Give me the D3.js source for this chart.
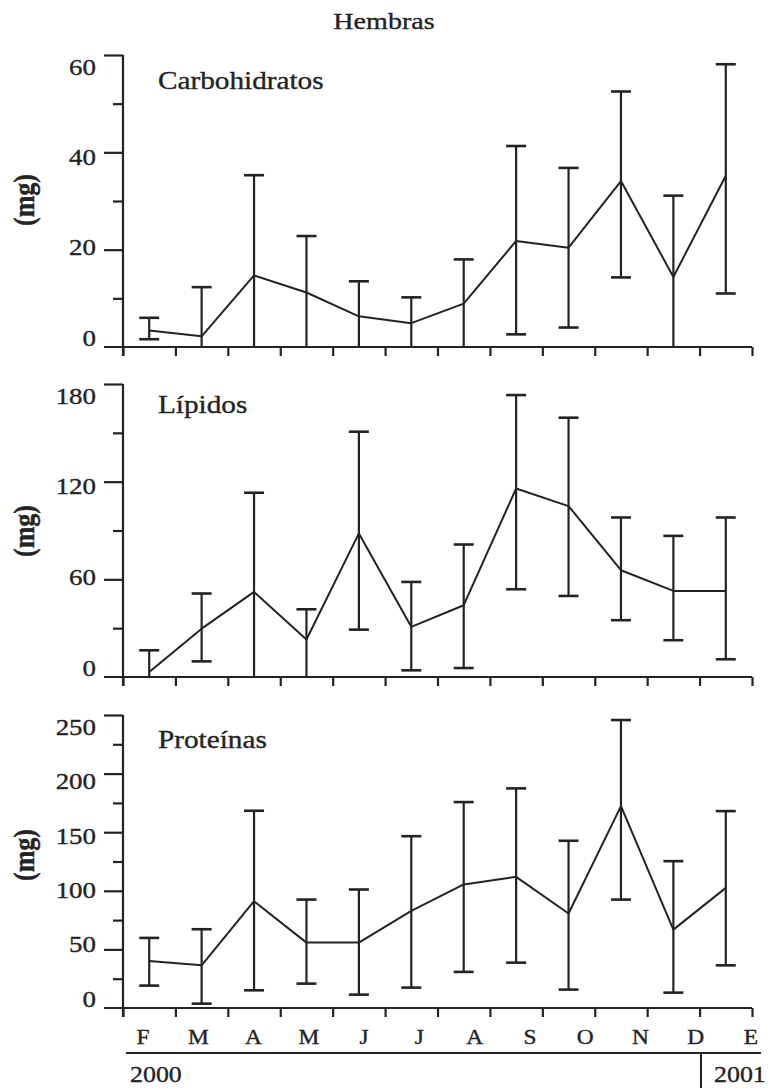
<!DOCTYPE html>
<html>
<head>
<meta charset="utf-8">
<script src="https://cdn.jsdelivr.net/npm/d3@7"></script>
<style>
  html, body { margin: 0; padding: 0; background: #fff; }
  svg { display: block; }
</style>
</head>
<body>
<svg id="chart" width="771" height="1088"></svg>
<script>
// Month labels (Feb 2000 – Jan 2001)
const months = ["F", "M", "A", "M", "J", "J", "A", "S", "O", "N", "D", "E"];
const years = ["2000", "2001"];

// Carbohidratos (mg): mean, upper and lower error limits (null = bar runs to the axis)
const carboMean  = [3.4, 2.2, 14.7, 11.2, 6.3, 4.9, 8.9, 21.8, 20.4, 34.1, 14.4, 35.2];
const carboUpper = [6.0, 12.3, 35.3, 22.8, 13.5, 10.2, 18.0, 41.3, 36.8, 52.5, 31.1, 58.1];
const carboLower = [1.6, null, null, null, null, null, null, 2.6, 4.0, 14.3, null, 11.0];
const carboTicks = [0, 20, 40, 60];
const carboMinor = [10, 30, 50];

// Lípidos (mg)
const lipMean  = [3.1, 29.7, 52.3, 23.0, 88.2, 30.8, 44.1, 115.8, 105.0, 65.6, 52.9, 52.9];
const lipUpper = [16.4, 51.3, 113.2, 41.6, 150.7, 58.4, 81.4, 173.2, 159.3, 98.0, 86.7, 98.0];
const lipLower = [null, 9.6, null, null, 29.1, 4.1, 5.5, 53.9, 49.8, 34.9, 22.6, 10.9];
const lipTicks = [0, 60, 120, 180];
const lipMinor = [30, 90, 150];

// Proteínas (mg)
const protMean  = [40.1, 36.4, 91.1, 55.8, 55.8, 82.9, 105.4, 111.9, 80.6, 172.3, 66.9, 102.5];
const protUpper = [59.8, 67.2, 168.3, 92.5, 101.1, 146.6, 175.7, 187.4, 142.7, 245.7, 125.3, 168.0];
const protLower = [19.1, 3.7, 15.1, 20.8, 11.4, 17.4, 30.8, 38.7, 15.7, 92.5, 13.1, 36.4];
const protTicks = [0, 50, 100, 150, 200, 250];
const protMinor = [25, 75, 125, 175, 225];

const INK = "#232323";
const FONT = "'Liberation Serif', 'Times New Roman', serif";
const SX = 1.17; // horizontal stretch of the lettering

const svg = d3.select("#chart");

// Stretched text helper
function label(g, x, y, str, size, anchor, opts = {}) {
  const t = g.append("text")
    .attr("transform", `translate(${x},${y}) scale(${opts.sx || SX},1)` + (opts.rotate ? ` rotate(${opts.rotate})` : ""))
    .attr("text-anchor", anchor)
    .attr("font-family", FONT)
    .attr("font-size", size)
    .attr("fill", INK)
    .attr("stroke", INK)
    .attr("stroke-width", 0.35)
    .text(str);
  if (opts.bold) t.attr("font-weight", "bold");
  return t;
}

// Shared month axis: ticks at month boundaries, data at month centres
const x = d3.scaleLinear().domain([0, 12]).range([123, 752]);
const xLabel = d3.scalePoint().domain(d3.range(12)).range([143, 751]);

const panels = [
  { name: "Carbohidratos", mean: carboMean, hi: carboUpper, lo: carboLower,
    max: 60, ticks: carboTicks, minor: carboMinor,
    top: 55, bottom: 347, titleY: 89, unitY: 200 },
  { name: "Lípidos", mean: lipMean, hi: lipUpper, lo: lipLower,
    max: 180, ticks: lipTicks, minor: lipMinor,
    top: 384, bottom: 677, titleY: 413, unitY: 531 },
  { name: "Proteínas", mean: protMean, hi: protUpper, lo: protLower,
    max: 250, ticks: protTicks, minor: protMinor,
    top: 715, bottom: 1008, titleY: 748, unitY: 855 }
];

panels.forEach(p => {
  const g = svg.append("g");
  const y = d3.scaleLinear().domain([0, p.max]).range([p.bottom, p.top]);
  // tick numbers sit on a slightly compressed copy of the value scale
  const yLab = y.copy().range([p.bottom - 9, p.top + 12]);

  // y axis: major and minor tick marks
  const majorAx = g.append("g").attr("transform", `translate(${x(0)},0)`)
    .call(d3.axisLeft(y).tickValues(p.ticks.filter(v => v > 0)).tickSize(19).tickFormat("").tickSizeOuter(0));
  const minorAx = g.append("g").attr("transform", `translate(${x(0)},0)`)
    .call(d3.axisLeft(y).tickValues(p.minor).tickSize(10).tickFormat("").tickSizeOuter(0));
  [majorAx, minorAx].forEach(a => {
    a.select(".domain").remove();
    a.selectAll("line").attr("stroke", INK).attr("stroke-width", 2.2);
  });

  // x axis ticks below the baseline
  const xAx = g.append("g").attr("transform", `translate(0,${p.bottom})`)
    .call(d3.axisBottom(x).tickValues(d3.range(13)).tickSize(9).tickFormat("").tickSizeOuter(0));
  xAx.select(".domain").remove();
  xAx.selectAll("line").attr("stroke", INK).attr("stroke-width", 2.2);

  // axis lines
  g.append("line").attr("x1", x(0)).attr("x2", x(0))
    .attr("y1", y(p.max)).attr("y2", p.bottom + 9)
    .attr("stroke", INK).attr("stroke-width", 2.2);
  g.append("line").attr("x1", x(0) - 19).attr("x2", x(12))
    .attr("y1", y(0)).attr("y2", y(0))
    .attr("stroke", INK).attr("stroke-width", 2.2);

  // tick numbers
  p.ticks.forEach(v => {
    label(g, 96, yLab(v), String(v), 23, "end").attr("dy", "0.34em");
  });

  // unit label
  label(g, 34, p.unitY, "(mg)", 26, "middle", { rotate: -90, bold: true });

  // panel title
  label(g, 158, p.titleY, p.name, 25, "start");

  // error bars
  const cap = 10;
  p.mean.forEach((m, i) => {
    const cx = x(i + 0.5);
    const hasLo = p.lo[i] !== null;
    const loV = hasLo ? p.lo[i] : 0;
    g.append("line").attr("x1", cx).attr("x2", cx)
      .attr("y1", y(p.hi[i])).attr("y2", y(loV))
      .attr("stroke", INK).attr("stroke-width", 2.2);
    g.append("line").attr("x1", cx - cap).attr("x2", cx + cap)
      .attr("y1", y(p.hi[i])).attr("y2", y(p.hi[i]))
      .attr("stroke", INK).attr("stroke-width", 2.6);
    if (hasLo) {
      g.append("line").attr("x1", cx - cap).attr("x2", cx + cap)
        .attr("y1", y(loV)).attr("y2", y(loV))
        .attr("stroke", INK).attr("stroke-width", 2.6);
    }
  });

  // mean line
  g.append("path")
    .datum(p.mean)
    .attr("d", d3.line().x((d, i) => x(i + 0.5)).y(d => y(d)))
    .attr("fill", "none")
    .attr("stroke", INK)
    .attr("stroke-width", 2)
    .attr("stroke-linejoin", "round");
});

// chart heading
label(svg, 384, 29, "Hembras", 24, "middle");

// month names under the last panel
months.forEach((m, i) => {
  label(svg, xLabel(i), 1044, m, 20, "middle");
});

// year bar
svg.append("line").attr("x1", 126).attr("x2", 761).attr("y1", 1053).attr("y2", 1053)
  .attr("stroke", INK).attr("stroke-width", 2);
svg.append("line").attr("x1", 701).attr("x2", 701).attr("y1", 1053).attr("y2", 1088)
  .attr("stroke", INK).attr("stroke-width", 2);
label(svg, 130, 1082, years[0], 24, "start", { sx: 1.08 });
label(svg, 714, 1082, years[1], 24, "start", { sx: 1.08 });
</script>
</body>
</html>
